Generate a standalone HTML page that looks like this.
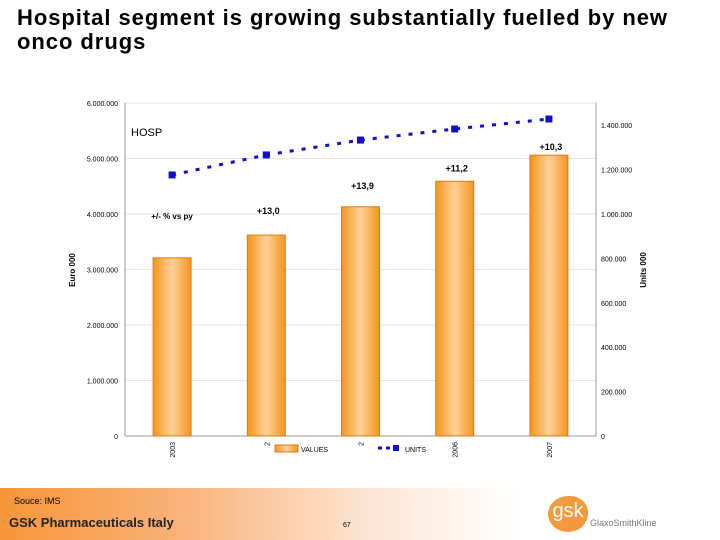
<!DOCTYPE html>
<html><head><meta charset="utf-8"><style>
body{margin:0;width:720px;height:540px;overflow:hidden;background:#fff;font-family:"Liberation Sans",sans-serif;position:relative}
#title{position:absolute;left:17px;top:6px;font-size:22px;font-weight:bold;line-height:24px;color:#000;letter-spacing:0.95px;white-space:nowrap}
#footer{position:absolute;left:0;top:488px;width:720px;height:52px;background:linear-gradient(90deg,#f7963a 0%,#f9b27a 25%,#fde3cf 50%,#fff 72%)}
</style></head><body>
<div id="title">Hospital segment is growing substantially fuelled by new<br>onco drugs</div>
<svg id="chart" width="720" height="488" style="position:absolute;left:0;top:0" font-family="Liberation Sans, sans-serif">
<defs><linearGradient id="bg" x1="0" x2="1" y1="0" y2="0"><stop offset="0" stop-color="#f7941d"/><stop offset="0.5" stop-color="#fdd19a"/><stop offset="1" stop-color="#f7941d"/></linearGradient></defs>
<g id="g"></g>
</svg>
<div id="footer">
<div style="position:absolute;left:14px;top:8px;font-size:9px">Souce: IMS</div>
<div style="position:absolute;left:9px;top:27px;font-size:13px;font-weight:bold;color:#222">GSK Pharmaceuticals Italy</div>
<div style="position:absolute;left:343px;top:34px;font-size:7px">67</div>
<div style="position:absolute;left:548px;top:8px;width:40px;height:36px;border-radius:50% 45% 50% 50%;background:#f29a3c;color:#fff;font-size:20px;text-align:center;line-height:30px">gsk</div>
<div style="position:absolute;left:590px;top:30px;font-size:9px;color:#777">GlaxoSmithKline</div>
</div>
<script>
const categories=["2003","2","2","2006","2007"];
const values=[3210000,3620000,4130000,4590000,5060000];
const units=[1176000,1266000,1333000,1383000,1428000];
const growth=["+/- %  vs py","+13,0","+13,9","+11,2","+10,3"];
const leftTicks=[0,1000000,2000000,3000000,4000000,5000000,6000000];
const rightTicks=[0,200000,400000,600000,800000,1000000,1200000,1400000];
const labelGap=[0,21,18,10,5];
const NS="http://www.w3.org/2000/svg",g=document.getElementById('g');
const X0=125,X1=596,Y0=436,Y1=103;
const yL=v=>Y0-(v/6000000)*(Y0-Y1);
const yR=v=>Y0-(v/1500000)*(Y0-Y1);
const xC=i=>X0+(X1-X0)*(i+0.5)/categories.length;
function el(t,a,txt){const e=document.createElementNS(NS,t);for(const k in a)e.setAttribute(k,a[k]);if(txt!=null)e.textContent=txt;g.appendChild(e);return e;}
const fmt=v=>v.toString().replace(/\B(?=(\d{3})+(?!\d))/g,'.');
leftTicks.forEach(v=>{
 if(v>0){const l=el('line',{x1:X0,x2:X1,y1:yL(v),y2:yL(v),stroke:'#e6e6e6'});}
 const t=el('text',{x:118,y:yL(v)+3,'font-size':7,'text-anchor':'end'},fmt(v));
 
});
rightTicks.forEach(v=>{
 const t=el('text',{x:601,y:yR(v)+3,'font-size':7},fmt(v));
 
});
let a=el('line',{x1:X0,x2:X0,y1:Y1,y2:Y0,stroke:'#999'});
a=el('line',{x1:X1,x2:X1,y1:Y1,y2:Y0,stroke:'#999'});
a=el('line',{x1:X0,x2:X1,y1:Y0,y2:Y0,stroke:'#999'});
let t=el('text',{x:75,y:270,'font-size':8,'font-weight':'bold','text-anchor':'middle',transform:'rotate(-90 75 270)'},'Euro 000');

t=el('text',{x:646,y:270,'font-size':8,'font-weight':'bold','text-anchor':'middle',transform:'rotate(-90 646 270)'},'Units 000');

t=el('text',{x:131,y:136,'font-size':11},'HOSP');

categories.forEach((c,i)=>{
 const cx=xC(i),bw=38;
 const b=el('rect',{x:cx-bw/2,y:yL(values[i]),width:bw,height:Y0-yL(values[i]),fill:'url(#bg)',stroke:'#e07b10','stroke-width':1});
 
 const ty=i==0?219:yL(values[i])-labelGap[i];
 const gt=el('text',{x:cx+(i==0?0:2),y:ty,'font-size':i==0?8:9,'font-weight':'bold','text-anchor':'middle'},growth[i]);
 
 const lx=cx+3,ly=442;
 const ct=el('text',{x:lx,y:ly,'font-size':7,'text-anchor':'end',transform:`rotate(-90 ${lx} ${ly})`},c);
 
});
const pts=units.map((u,i)=>xC(i)+','+yR(u)).join(' ');
const ln=el('polyline',{points:pts,fill:'none',stroke:'#1010c8','stroke-width':3,'stroke-dasharray':'4 8'});

units.forEach((u,i)=>{const m=el('rect',{x:xC(i)-3.5,y:yR(u)-3.5,width:7,height:7,fill:'#1010c8'});
 });
let lg=el('rect',{x:275,y:445,width:23,height:7,fill:'url(#bg)',stroke:'#e07b10'});
t=el('text',{x:301,y:452,'font-size':7},'VALUES');
lg=el('line',{x1:378,x2:392,y1:448,y2:448,stroke:'#1010c8','stroke-width':3,'stroke-dasharray':'4 4'});
lg=el('rect',{x:393,y:445,width:6,height:6,fill:'#1010c8'});
t=el('text',{x:405,y:452,'font-size':7},'UNITS');
</script>
</body></html>
